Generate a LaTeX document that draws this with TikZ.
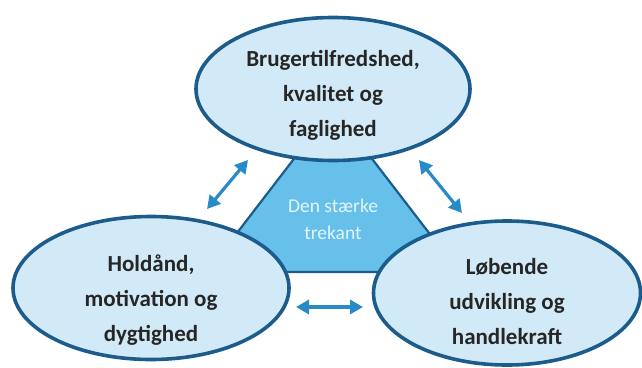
\documentclass[tikz,border=0pt]{standalone}
\usepackage{fontspec}
\setmainfont{Carlito}
\usetikzlibrary{arrows.meta,shapes.geometric}
\definecolor{bubblefill}{RGB}{210,234,247}
\definecolor{bubbleedge}{RGB}{28,92,140}
\definecolor{trifill}{RGB}{102,192,234}
\definecolor{arrowblue}{RGB}{40,138,198}
\definecolor{tritext}{RGB}{226,244,252}

\begin{document}
\begin{tikzpicture}[x=1pt,y=-1pt,line cap=round,line join=round,
  bubble/.style={ellipse,draw=bubbleedge,fill=bubblefill,line width=3.6pt,inner sep=0pt},
  bubbletext/.style={font=\fontsize{23}{35}\selectfont\bfseries,text=black!85,align=center},
  twoway/.style={{Triangle[length=13pt,width=14pt]}-{Triangle[length=13pt,width=14pt]},arrowblue,line width=3.2pt,line cap=butt}]
\useasboundingbox (0,0) rectangle (642,367);
% the strong triangle behind the three bubbles
\coordinate (apex) at (333,108);
\coordinate (baseL) at (207,272);
\coordinate (baseR) at (459,272);
\filldraw[fill=trifill,draw=bubbleedge,line width=2.2pt] (apex) -- (baseL) -- (baseR) -- cycle;
\node[font=\fontsize{19.5}{27}\selectfont,text=tritext,align=center] (core) at (333,219) {Den stærke\\trekant};
% bubbles
\node[bubble,minimum width=274pt,minimum height=143pt] (top) at (333,89) {};
\node[bubble,minimum width=276pt,minimum height=143pt] (left) at (151,288) {};
\node[bubble,minimum width=267pt,minimum height=144pt] (right) at (507,293) {};
\node[bubbletext] (topText) at ([yshift=-6pt]top.center) {Brugertilfredshed,\\kvalitet og\\faglighed};
\node[bubbletext] (leftText) at ([yshift=-12pt]left.center) {Holdånd,\\motivation og\\dygtighed};
\node[bubbletext] (rightText) at ([yshift=-9pt]right.center) {Løbende\\udvikling og\\handlekraft};
% arrows in the gaps
\coordinate (tlA) at (207,209);
\coordinate (tlB) at (248,160);
\coordinate (trA) at (419,160);
\coordinate (trB) at (462,213);
\coordinate (lrA) at (296,307);
\coordinate (lrB) at (363,307);
\draw[twoway] (tlA) -- (tlB);
\draw[twoway] (trA) -- (trB);
\draw[twoway] (lrA) -- (lrB);
\end{tikzpicture}
\end{document}
